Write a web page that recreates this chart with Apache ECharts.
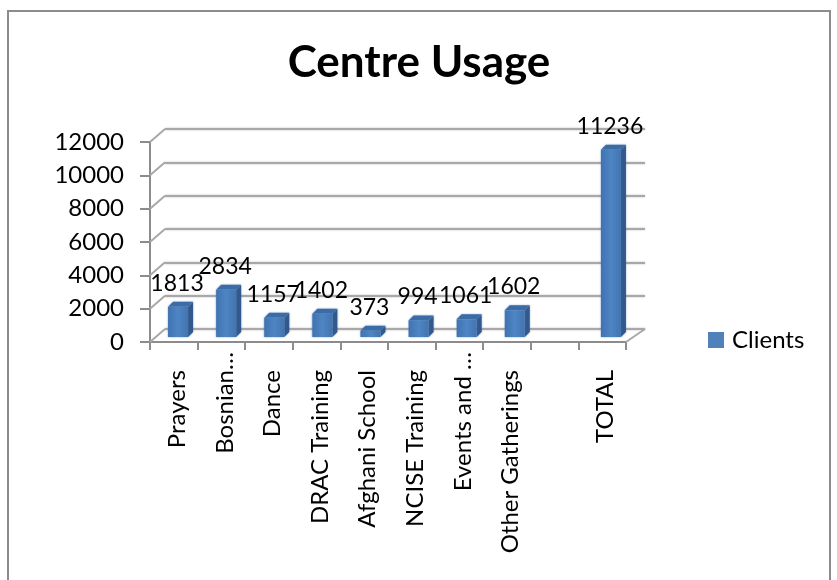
<!DOCTYPE html>
<html>
<head>
<meta charset="utf-8">
<title>Centre Usage</title>
<style>
	html, body { margin: 0; padding: 0; background: #fff; }
	#chart { width: 837px; height: 580px; }
</style>
<script src="https://cdn.jsdelivr.net/npm/echarts@6/dist/echarts.min.js"></script>
</head>
<body>
<div id="chart"></div>
<script>
	var categories = ['Prayers', 'Bosnian…', 'Dance', 'DRAC Training', 'Afghani School', 'NCISE Training', 'Events and …', 'Other Gatherings', '', 'TOTAL'];
	var clients = [1813, 2834, 1157, 1402, 373, 994, 1061, 1602, null, 11236];
	var yTicks = [0, 2000, 4000, 6000, 8000, 10000, 12000];

	var fontName = 'Lato';
	var axisGray = '#8c8c8c';
	var wallGray = '#a8a8a8';
	var depthX = 15, depthY = 13; // floor depth in px
	var barDepthX = 5, barDepthY = 5;

	// each column is a front face, a side face and a top face, placed from the value axis
	function renderBar(params, api) {
		var val = api.value(1);
		if (isNaN(val)) return;
		var top = api.coord([api.value(0), val]);
		var base = api.coord([api.value(0), 0]);
		var w = 20;
		var x = top[0] - w / 2;
		var r = x + w;
		return {
			type: 'group',
			children: [{
				type: 'polygon',
				shape: { points: [[r, top[1]], [r + barDepthX, top[1] - barDepthY], [r + barDepthX, base[1] - barDepthY], [r, base[1]]] },
				style: { fill: '#31598c', shadowBlur: 2, shadowColor: 'rgba(49,89,140,0.6)' }
			}, {
				type: 'polygon',
				shape: { points: [[x, top[1]], [x + barDepthX, top[1] - barDepthY], [r + barDepthX, top[1] - barDepthY], [r, top[1]]] },
				style: { fill: '#3c6ca6', shadowBlur: 2, shadowColor: 'rgba(60,108,166,0.6)' }
			}, {
				type: 'rect',
				shape: { x: x, y: top[1], width: w, height: base[1] - top[1] },
				style: {
					fill: new echarts.graphic.LinearGradient(0, 0, 1, 0, [
						{ offset: 0, color: '#3f72b0' },
						{ offset: 0.5, color: '#4f85c4' },
						{ offset: 1, color: '#4274b0' }
					]),
					shadowBlur: 2,
					shadowColor: 'rgba(63,114,176,0.6)'
				}
			}, {
				type: 'text',
				z2: 10,
				style: {
					x: x + w / 2 - 1,
					y: top[1] - barDepthY - 7,
					text: String(val),
					font: '23px ' + fontName,
					fill: '#000',
					align: 'center',
					verticalAlign: 'bottom'
				}
			}]
		};
	}

	// diagonals joining the front axis to the back wall
	function renderDepth(params, api) {
		var p = api.coord([0, api.value(0)]);
		var sys = params.coordSys;
		var children = [{
			type: 'line',
			shape: { x1: sys.x, y1: p[1], x2: sys.x + depthX, y2: p[1] - depthY },
			style: { stroke: wallGray, lineWidth: 2 }
		}];
		if (api.value(0) === 0) {
			children.push({
				type: 'line',
				shape: { x1: sys.x + sys.width, y1: p[1], x2: sys.x + sys.width + depthX + 4, y2: p[1] - depthY },
				style: { stroke: wallGray, lineWidth: 2 }
			});
		}
		return { type: 'group', children: children };
	}

	var option = {
		animation: false,
		backgroundColor: '#fff',
		title: {
			text: 'Centre Usage',
			left: 414,
			top: 36,
			textAlign: 'center',
			textStyle: { fontFamily: fontName, fontSize: 44, fontWeight: 'bold', color: '#000' }
		},
		legend: {
			left: 703,
			top: 323,
			data: ['Clients'],
			icon: 'rect',
			itemWidth: 16,
			itemHeight: 16,
			itemGap: 0,
			textStyle: { fontFamily: fontName, fontSize: 24, color: '#000', padding: [0, 0, 0, 3] }
		},
		graphic: [{
			type: 'rect',
			shape: { x: 8, y: 11, width: 822, height: 580 },
			style: { fill: 'none', stroke: axisGray, lineWidth: 2 },
			silent: true
		}],
		grid: [
			{ left: 150, top: 142, width: 476, height: 200 }, // front axes
			{ left: 165, top: 129, width: 480, height: 200 }, // back wall
			{ left: 154, top: 137, width: 481, height: 200 } // plane of the columns
		],
		xAxis: [{
			gridIndex: 0,
			type: 'category',
			data: categories,
			axisLine: { lineStyle: { color: axisGray, width: 2 } },
			axisTick: { show: true, alignWithLabel: false, length: 8, lineStyle: { color: axisGray, width: 2 } },
			axisLabel: {
				interval: 0,
				rotate: 90,
				margin: 10,
				padding: [7, 0, 0, 0],
				fontFamily: fontName,
				fontSize: 24,
				color: '#000',
				formatter: function (v) {
					return v.indexOf('…') >= 0 ? v : '{n|' + v + '}';
				},
				rich: { n: { fontFamily: fontName, fontSize: 24, color: '#000', padding: [0, 18, 0, 0] } }
			}
		}, {
			gridIndex: 1,
			type: 'category',
			data: categories,
			show: false
		}, {
			gridIndex: 2,
			type: 'category',
			data: categories,
			show: false
		}],
		yAxis: [{
			gridIndex: 0,
			type: 'value',
			min: 0,
			max: 12000,
			interval: 2000,
			axisLine: { show: true, lineStyle: { color: axisGray, width: 2 } },
			axisTick: { show: true, length: 10, lineStyle: { color: axisGray, width: 2 } },
			axisLabel: {
				margin: 26,
				padding: [12, 0, 0, 0],
				fontFamily: fontName,
				fontSize: 24,
				color: '#000',
				formatter: function (v) { return String(v); }
			},
			splitLine: { show: false }
		}, {
			gridIndex: 1,
			type: 'value',
			min: 0,
			max: 12000,
			interval: 2000,
			axisLine: { show: false },
			axisTick: { show: false },
			axisLabel: { show: false },
			splitLine: { show: true, lineStyle: { color: wallGray, width: 2, shadowBlur: 2, shadowColor: 'rgba(120,120,120,0.5)' } }
		}, {
			gridIndex: 2,
			type: 'value',
			min: 0,
			max: 12000,
			interval: 2000,
			show: false,
			splitLine: { show: false }
		}],
		series: [{
			type: 'custom',
			coordinateSystem: 'cartesian2d',
			xAxisIndex: 0,
			yAxisIndex: 0,
			silent: true,
			renderItem: renderDepth,
			encode: { y: 0 },
			data: yTicks.map(function (v) { return [v]; })
		}, {
			name: 'Clients',
			type: 'custom',
			coordinateSystem: 'cartesian2d',
			xAxisIndex: 2,
			yAxisIndex: 2,
			itemStyle: { color: '#4f81bd' },
			renderItem: renderBar,
			encode: { x: 0, y: 1 },
			data: clients.map(function (v, i) { return [i, v]; })
		}]
	};

	var chart = echarts.init(document.getElementById('chart'));
	chart.setOption(option);
</script>
</body>
</html>
